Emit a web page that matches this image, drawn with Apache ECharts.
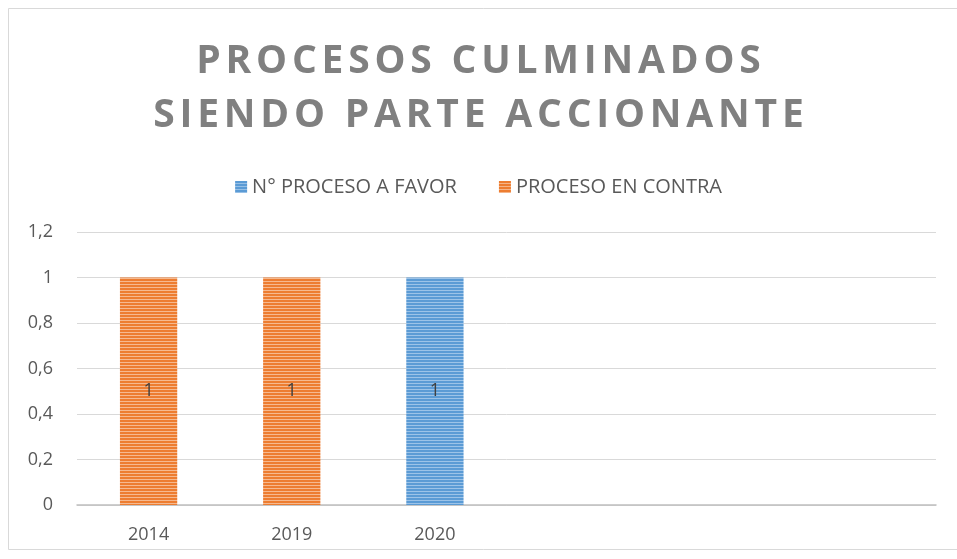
<!DOCTYPE html>
<html>
<head>
<meta charset="utf-8">
<script src="https://cdn.jsdelivr.net/npm/echarts@6/dist/echarts.min.js"></script>
<style>
  html, body { margin: 0; padding: 0; background: #fff; }
  #chart { width: 957px; height: 559px; }
</style>
</head>
<body>
<div id="chart"></div>
<script>
// datos
var categorias = ['2014', '2019', '2020', '', '', ''];
var aFavor = [null, null, 1, null, null, null];
var enContra = [1, 1, null, null, null, null];
var nombres = ['N° PROCESO A FAVOR', 'PROCESO EN CONTRA'];
var tituloLineas = ['PROCESOS CULMINADOS', 'SIENDO PARTE ACCIONANTE'];

// titulo con espaciado entre letras (cada letra es un fragmento rich)
var tituloRich = tituloLineas.map(function (linea) {
  return linea.split('').map(function (ch) { return '{c|' + ch + '}'; }).join('');
}).join('\n');

// relleno rayado horizontal (como el de Excel)
function rayas(base, claro) {
  var c = document.createElement('canvas');
  c.width = 8; c.height = 6;
  var ctx = c.getContext('2d');
  ctx.fillStyle = base;
  ctx.fillRect(0, 0, 8, 6);
  ctx.fillStyle = claro;
  ctx.fillRect(0, 2, 8, 1);
  ctx.fillRect(0, 5, 8, 1);
  return { image: c, repeat: 'repeat' };
}

var azul = '#5B9BD5', naranja = '#ED7D31';
var fuente = 'Open Sans';

var myChart = echarts.init(document.getElementById('chart'));
myChart.setOption({
  backgroundColor: '#fff',
  animation: false,
  title: {
    text: tituloRich,
    left: 'center',
    top: 30,
    textStyle: {
      rich: {
        c: {
          fontFamily: fuente,
          fontWeight: 'bold',
          fontSize: 39,
          color: '#808080',
          lineHeight: 54,
          padding: [0, 2.4]
        }
      }
    }
  },
  legend: {
    top: 172,
    left: 'center',
    itemWidth: 12,
    itemHeight: 12,
    itemGap: 42,
    icon: 'rect',
    textStyle: { fontFamily: fuente, fontSize: 20, color: '#595959' },
    data: nombres
  },
  grid: { left: 77, right: 21, top: 232, bottom: 54 },
  xAxis: {
    type: 'category',
    data: categorias,
    axisLine: { lineStyle: { color: '#bfbfbf', width: 1.5 } },
    axisTick: { show: false },
    axisLabel: { fontFamily: fuente, fontSize: 18, color: '#595959', margin: 21 }
  },
  yAxis: {
    type: 'value',
    min: 0, max: 1.2, interval: 0.2,
    axisLine: { show: false },
    axisTick: { show: false },
    splitLine: { lineStyle: { color: '#d9d9d9' } },
    axisLabel: {
      fontFamily: fuente, fontSize: 18, color: '#595959', margin: 24,
      formatter: function (v) { return String(Math.round(v * 10) / 10).replace('.', ','); }
    }
  },
  series: [
    {
      name: nombres[0], type: 'bar', stack: 'total', barWidth: '40%',
      data: aFavor,
      itemStyle: { color: rayas(azul, '#9cc3e8') },
      label: { show: true, position: 'inside', fontFamily: fuente, fontSize: 18, color: '#404040' }
    },
    {
      name: nombres[1], type: 'bar', stack: 'total', barWidth: '40%',
      data: enContra,
      itemStyle: { color: rayas(naranja, '#f6b98f') },
      label: { show: true, position: 'inside', fontFamily: fuente, fontSize: 18, color: '#404040' }
    }
  ],
  color: [azul, naranja],
  graphic: [{
    type: 'rect',
    shape: { x: 8.5, y: 8.5, width: 960, height: 541 },
    style: { fill: 'none', stroke: '#d9d9d9', lineWidth: 1 },
    silent: true
  }]
}, true);
</script>
</body>
</html>
